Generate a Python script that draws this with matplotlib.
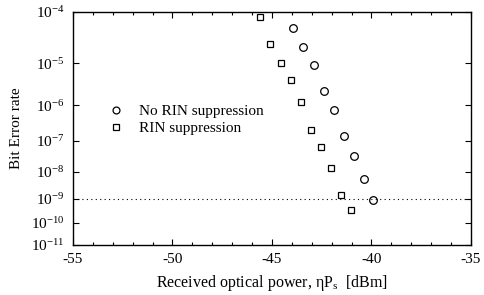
import numpy as np
import matplotlib
matplotlib.use("Agg")
import matplotlib.pyplot as plt
from matplotlib.ticker import FixedLocator, FixedFormatter, MultipleLocator

# values
p_no_rin = [-43.95, -43.45, -42.9, -42.4, -41.9, -41.4, -40.9, -40.4, -39.9]
ber_no_rin = [5.2e-5, 2.2e-5, 9.1e-6, 2.3e-6, 7.6e-7, 1.44e-7, 3.45e-8, 5.5e-9, 9.1e-10]
p_rin = [-45.6, -45.1, -44.55, -44.05, -43.55, -43.05, -42.55, -42.05, -41.55, -41.05]
ber_rin = [8.1e-5, 2.5e-5, 1.04e-5, 4.2e-6, 1.25e-6, 2.1e-7, 6.5e-8, 1.3e-8, 1.45e-9, 3.6e-10]
y_exponents = [-4, -5, -6, -7, -8, -9, -10, -11]
x_ticks = [-55, -50, -45, -40, -35]
ber_ref = 1e-9

plt.rcParams['font.family'] = ['Liberation Serif', 'DejaVu Serif']
plt.rcParams['mathtext.fontset'] = 'stix'


# BER paper scale: -log10(-log10(BER))
def fwd(y):
    y = np.clip(np.asarray(y, dtype=float), 1e-300, 1 - 1e-12)
    return -np.log10(-np.log10(y))


def inv(g):
    return 10.0 ** (-(10.0 ** (-np.asarray(g, dtype=float))))


fig = plt.figure(figsize=(4.84, 2.95), dpi=100)
ax = fig.add_axes([73 / 484, 50 / 295, 398 / 484, 233 / 295])
ax.set_yscale('function', functions=(fwd, inv))

ax.plot(p_no_rin, ber_no_rin, 'o', mfc='none', mec='black', ms=5.5, mew=0.9,
        label='No RIN suppression')
ax.plot(p_rin, ber_rin, 's', mfc='none', mec='black', ms=4.8, mew=0.9,
        label='RIN suppression')
ax.axhline(ber_ref, color='black', ls=(0, (1, 3)), lw=0.8)

ax.set_xlim(-55, -35)
ax.set_ylim(10.0 ** y_exponents[-1], 10.0 ** y_exponents[0])

ax.xaxis.set_major_locator(FixedLocator(x_ticks))
ax.xaxis.set_minor_locator(MultipleLocator(1))
ax.set_xticklabels([str(t) for t in x_ticks])
ax.yaxis.set_major_locator(FixedLocator([10.0 ** e for e in y_exponents]))
ax.yaxis.set_major_formatter(FixedFormatter([rf'$\mathregular{{10^{{{e}}}}}$' for e in y_exponents]))
ax.yaxis.set_minor_locator(FixedLocator([]))

ax.tick_params(which='both', direction='in', top=True, right=True, labelsize=11, width=0.8)
ax.tick_params(which='major', length=4, pad=6)
ax.tick_params(which='minor', length=2.5)
for s in ax.spines.values():
    s.set_linewidth(1.0)

ax.set_xlabel(r'Received optical power, $\mathregular{\eta P_s}$  [dBm]', fontsize=11.5, labelpad=5)
ax.set_ylabel('Bit Error rate', fontsize=11, labelpad=6)

ax.legend(loc='upper left', bbox_to_anchor=(0.07, 0.635), frameon=False,
          fontsize=11, handlelength=1.0, handletextpad=1.0, labelspacing=0.2,
          borderpad=0, markerscale=0.9)

fig.savefig('out.png', dpi=100)
